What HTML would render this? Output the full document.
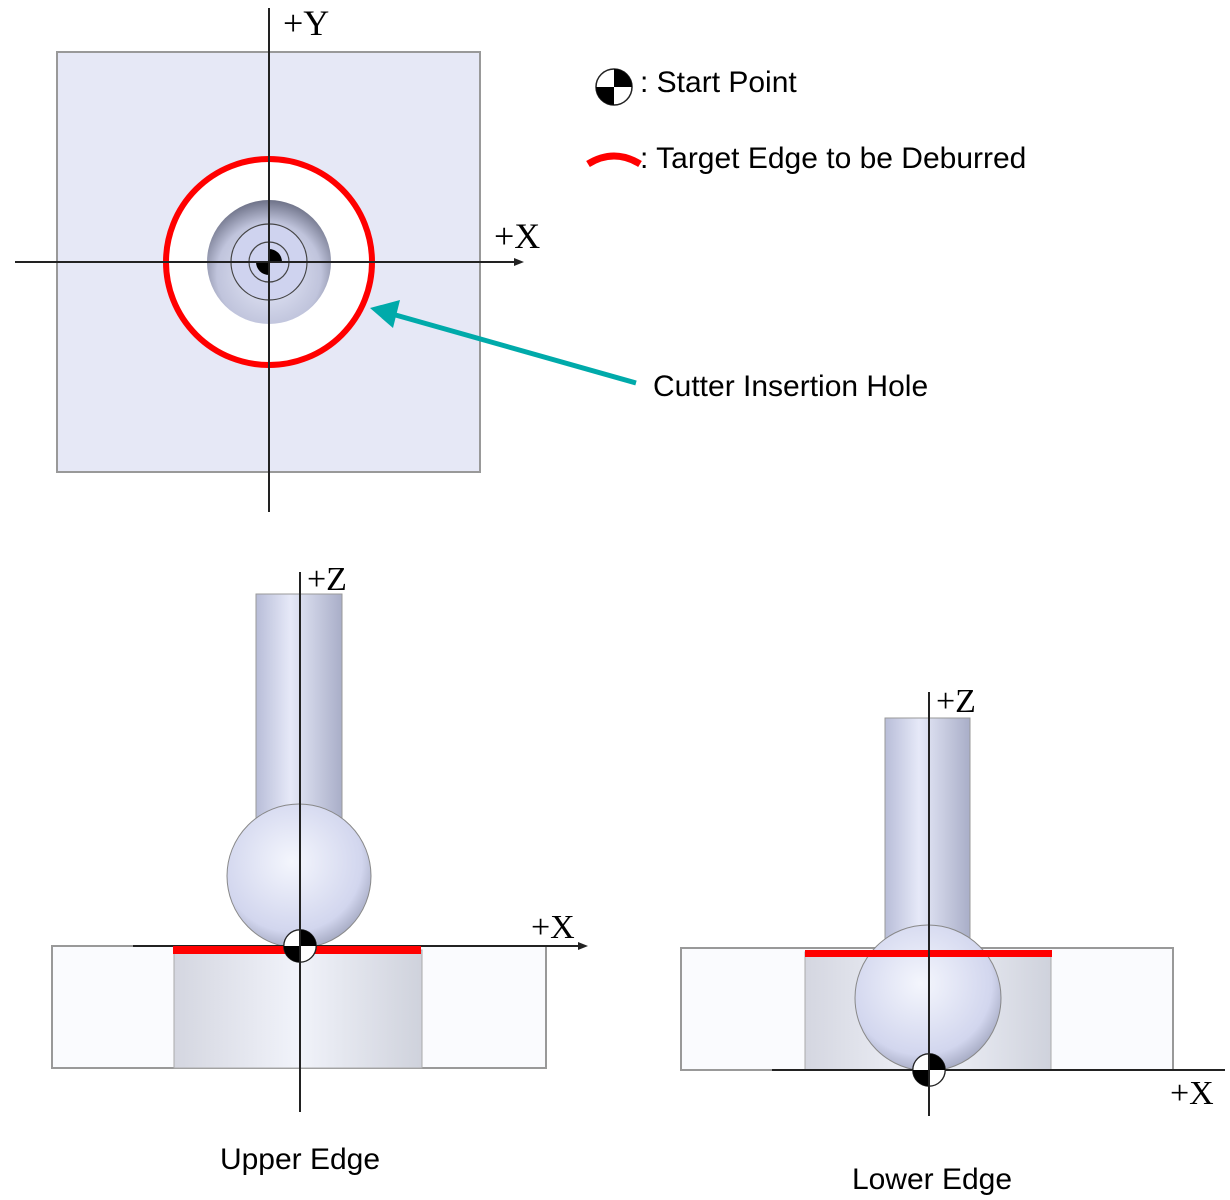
<!DOCTYPE html>
<html><head><style>body{margin:0;background:#fff}svg{display:block}</style></head><body>
<svg width="1230" height="1200" viewBox="0 0 1230 1200" xmlns="http://www.w3.org/2000/svg">
<defs>
<radialGradient id="sph" cx="0.45" cy="0.4" r="0.65"><stop offset="0" stop-color="#f4f6fd"/><stop offset="0.75" stop-color="#d2d6ee"/><stop offset="1" stop-color="#9a9fb8"/></radialGradient>
<radialGradient id="hole" cx="0.5" cy="0.6" r="0.6"><stop offset="0" stop-color="#e8ebfa"/><stop offset="0.7" stop-color="#c0c4dc"/><stop offset="1" stop-color="#6e7288"/></radialGradient>
<linearGradient id="cyl" x1="0" x2="1"><stop offset="0" stop-color="#b8bdd8"/><stop offset="0.4" stop-color="#e6e9f8"/><stop offset="1" stop-color="#a9aec8"/></linearGradient>
<linearGradient id="bore" x1="0" x2="1"><stop offset="0" stop-color="#d4d6e0"/><stop offset="0.5" stop-color="#f1f3fa"/><stop offset="1" stop-color="#cfd2dc"/></linearGradient>
<symbol id="sp" viewBox="-20 -20 40 40"><circle r="18" fill="#fff" stroke="#222" stroke-width="1.5"/><path d="M0 0 L0 -18 A18 18 0 0 1 18 0Z M0 0 L0 18 A18 18 0 0 1 -18 0Z" fill="#000"/></symbol>
</defs>
<g font-family="Liberation Sans, sans-serif">
<rect x="57" y="52" width="423" height="420" fill="#e6e8f6" stroke="#999" stroke-width="2"/>
<circle cx="269" cy="262" r="103" fill="#fff" stroke="#f00" stroke-width="6"/>
<circle cx="269" cy="262" r="62" fill="url(#hole)"/>
<circle cx="269" cy="262" r="38" fill="#cfd3ef" stroke="#444" stroke-width="1.2"/>
<circle cx="269" cy="262" r="20" fill="none" stroke="#444" stroke-width="1.2"/>
<path d="M269 262 L269 249 A13 13 0 0 1 282 262Z M269 262 L269 275 A13 13 0 0 1 256 262Z" fill="#000"/>
<line x1="269" y1="8" x2="269" y2="512" stroke="#222" stroke-width="2"/>
<line x1="15" y1="262" x2="518" y2="262" stroke="#222" stroke-width="2"/>
<path d="M524 262 L514 258 L514 266Z" fill="#222"/>
<text x="283" y="35" font-family="Liberation Serif, serif" font-size="36">+Y</text>
<text x="494" y="248" font-family="Liberation Serif, serif" font-size="36">+X</text>
<use href="#sp" x="594" y="67" width="40" height="40"/>
<text x="640" y="92" font-size="30">: Start Point</text>
<path d="M588 164 Q614 148 640 164" fill="none" stroke="#f00" stroke-width="7"/>
<text x="640" y="168" font-size="30">: Target Edge to be Deburred</text>
<line x1="636" y1="383" x2="392" y2="314" stroke="#00aaaa" stroke-width="5"/>
<path d="M370 308 L400 300 L393 328Z" fill="#00aaaa"/>
<text x="653" y="396" font-size="30">Cutter Insertion Hole</text>
<rect x="52" y="946" width="494" height="122" fill="#fafbfe" stroke="#999" stroke-width="2"/>
<rect x="174" y="950" width="248" height="118" fill="url(#bore)" stroke="#aaa" stroke-width="1"/>
<rect x="256" y="594" width="86" height="232" fill="url(#cyl)" stroke="#999" stroke-width="1"/>
<circle cx="299" cy="876" r="72" fill="url(#sph)" stroke="#888" stroke-width="1"/>
<line x1="133" y1="946" x2="582" y2="946" stroke="#222" stroke-width="2"/>
<path d="M588 946 L578 942 L578 950Z" fill="#222"/>
<rect x="173" y="946" width="248" height="8" fill="#f00"/>
<use href="#sp" x="282" y="928" width="36" height="36"/>
<line x1="300" y1="572" x2="300" y2="1112" stroke="#222" stroke-width="2"/>
<text x="307" y="590" font-family="Liberation Serif, serif" font-size="34">+Z</text>
<text x="531" y="938" font-family="Liberation Serif, serif" font-size="34">+X</text>
<text x="300" y="1169" font-size="30" text-anchor="middle">Upper Edge</text>
<rect x="681" y="948" width="492" height="122" fill="#fafbfe" stroke="#999" stroke-width="2"/>
<rect x="805" y="952" width="246" height="118" fill="url(#bore)" stroke="#aaa" stroke-width="1"/>
<rect x="885" y="718" width="85" height="230" fill="url(#cyl)" stroke="#999" stroke-width="1"/>
<circle cx="928" cy="998" r="73" fill="url(#sph)" stroke="#888" stroke-width="1"/>
<rect x="805" y="950" width="247" height="7" fill="#f00"/>
<line x1="772" y1="1070" x2="1225" y2="1070" stroke="#222" stroke-width="2"/>
<use href="#sp" x="911" y="1052" width="36" height="36"/>
<line x1="929" y1="692" x2="929" y2="1116" stroke="#222" stroke-width="2"/>
<text x="936" y="712" font-family="Liberation Serif, serif" font-size="34">+Z</text>
<text x="1170" y="1104" font-family="Liberation Serif, serif" font-size="34">+X</text>
<text x="932" y="1189" font-size="30" text-anchor="middle">Lower Edge</text>
</g>
</svg>
</body></html>
